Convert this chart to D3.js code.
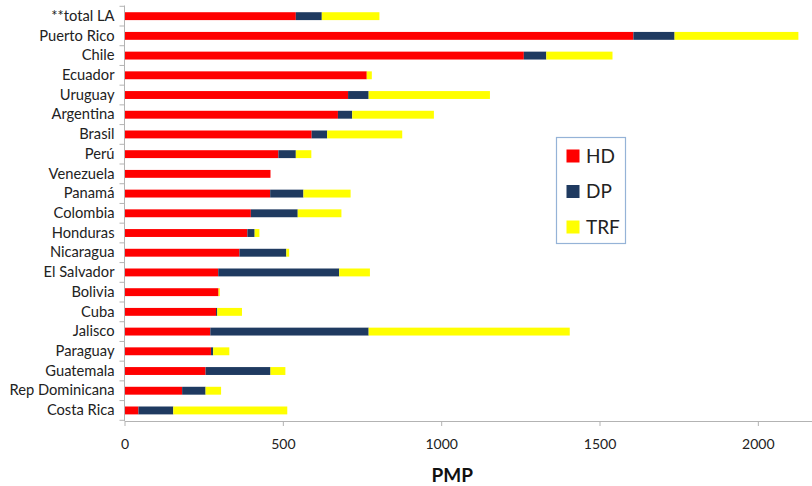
<!DOCTYPE html>
<html><head><meta charset="utf-8">
<script src="https://cdn.jsdelivr.net/npm/d3@7"></script>
<style>body{margin:0;background:#fff}svg{display:block;font-family:Lato,"Open Sans",sans-serif}</style>
</head><body><svg id="c" width="812" height="486"></svg>
<script>
const categories = ["**total LA","Puerto Rico","Chile","Ecuador","Uruguay","Argentina","Brasil","Perú","Venezuela","Panamá","Colombia","Honduras","Nicaragua","El Salvador","Bolivia","Cuba","Jalisco","Paraguay","Guatemala","Rep Dominicana","Costa Rica"];
const HD  = [541,1607,1261,765,706,674,591,486,461,460,399,388,363,296,297,289,271,273,256,182,44];
const DP  = [82,130,71,0,65,45,49,55,0,105,148,23,148,382,0,4,500,7,205,74,110];
const TRF = [182,391,209,16,383,258,237,49,0,149,138,15,9,97,4,78,635,51,47,49,360];
const seriesNames = ["HD","DP","TRF"];
const colors = ["#ff0000","#1f3a60","#ffff00"];
const xTicks = [0,500,1000,1500,2000];
const xTitle = "PMP";

const svg = d3.select("#c");
const x = d3.scaleLinear().domain([0,2171]).range([124.5,812]);
const y = d3.scaleBand().domain(categories).range([6.3,420.3]).paddingInner(0.6).paddingOuter(0.3);
const yb = d3.scaleBand().domain(categories).range([6.3,420.3]);

const rows = categories.map((c,i)=>({cat:c,HD:HD[i],DP:DP[i],TRF:TRF[i]}));
const stack = d3.stack().keys(seriesNames)(rows);

svg.append("g").selectAll("g").data(stack).join("g")
  .attr("fill",(d,i)=>colors[i])
  .selectAll("rect").data(d=>d).join("rect")
  .attr("x",d=>x(d[0])).attr("width",d=>Math.max(0,x(d[1])-x(d[0])))
  .attr("y",d=>y(d.data.cat)).attr("height",y.bandwidth());

// Axes
const axisColor = "#b3b3b3";
const gx = svg.append("g").attr("transform","translate(0,421)")
  .call(d3.axisBottom(x).tickValues(xTicks).tickSize(5).tickSizeOuter(0).tickFormat(d3.format("d")));
gx.select(".domain").attr("stroke",axisColor);
gx.selectAll(".tick line").attr("stroke",axisColor);
gx.selectAll(".tick text").attr("font-size",14).attr("fill","#222").attr("dy","1.45em").attr("font-family","Lato,sans-serif");

const gy = svg.append("g").attr("transform","translate(124.5,0)")
  .call(d3.axisLeft(yb).tickSize(0).tickPadding(10).tickSizeOuter(0));
gy.select(".domain").attr("stroke",axisColor).attr("d","M0,5.5V421");
gy.selectAll(".tick text").attr("font-size",14.7).attr("fill","#222").attr("font-family","Lato,sans-serif");
const bounds = categories.map(c=>yb(c)).concat([yb.range()[1]]);
gy.selectAll("line.bt").data(bounds).join("line").attr("class","bt")
  .attr("x1",-5).attr("x2",0).attr("y1",d=>d).attr("y2",d=>d).attr("stroke",axisColor);

svg.append("text").attr("x",x(1000)+11).attr("y",482).attr("text-anchor","middle")
  .attr("font-size",19).attr("font-weight","bold").attr("fill","#111").text(xTitle);

// Legend
const lg = svg.append("g");
lg.append("rect").attr("x",556.5).attr("y",137.5).attr("width",69).attr("height",106)
  .attr("fill","#fff").attr("stroke","#95b3d7").attr("stroke-width",1.2);
seriesNames.forEach((s,i)=>{
  const cy = 156 + i*35.5;
  lg.append("rect").attr("x",566.5).attr("y",cy-6.5).attr("width",13).attr("height",13).attr("fill",colors[i]);
  lg.append("text").attr("x",586).attr("y",cy).attr("dy","0.36em").attr("font-size",19).attr("fill","#222").text(s);
});
</script></body></html>
